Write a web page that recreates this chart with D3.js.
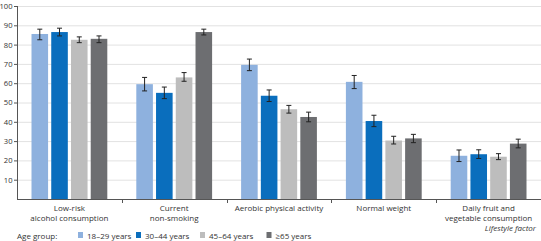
<!DOCTYPE html>
<html>
<head>
<meta charset="utf-8">
<script src="https://cdn.jsdelivr.net/npm/d3@7"></script>
<style>
  body { margin: 0; background: #fff; }
  text { font-family: "Open Sans", "Noto Sans", sans-serif; fill: #333; }
</style>
</head>
<body>
<script>
// lifestyle factors by age group

const factors = [
    ["Low-risk", "alcohol consumption"],
    ["Current", "non-smoking"],
    ["Aerobic physical activity"],
    ["Normal weight"],
    ["Daily fruit and", "vegetable consumption"]
];
const ageGroups = ["18\u201329 years", "30\u201344 years", "45\u201364 years", "\u226565 years"];

// values per age group (one entry per factor)
const age18 = [85.5, 59.5, 69.5, 60.7, 22.4];
const age30 = [86.5, 55.0, 53.5, 40.4, 23.2];
const age45 = [82.5, 63.0, 46.5, 30.3, 21.9];
const age65 = [83.0, 86.5, 42.5, 31.4, 28.7];

// confidence intervals
const low18 = [82.5, 56.0, 66.5, 57.2, 19.4];
const high18 = [88.0, 63.0, 72.5, 64.0, 25.4];
const low30 = [84.5, 52.0, 50.5, 37.5, 21.0];
const high30 = [88.5, 58.0, 56.5, 43.4, 25.5];
const low45 = [81.0, 61.0, 44.5, 28.5, 20.4];
const high45 = [84.0, 65.5, 48.5, 32.5, 23.5];
const low65 = [81.0, 85.0, 40.0, 29.2, 26.5];
const high65 = [84.5, 88.0, 45.0, 33.5, 31.0];

const yTicks = [10, 20, 30, 40, 50, 60, 70, 80, 90, 100];

const series = [
    {vals: age18, lo: low18, hi: high18},
    {vals: age30, lo: low30, hi: high30},
    {vals: age45, lo: low45, hi: high45},
    {vals: age65, lo: low65, hi: high65}
];

const color = d3.scaleOrdinal()
    .domain(ageGroups)
    .range(["#8eb1de", "#0a6ebd", "#bdbdbd", "#6d6e71"]);

// set the dimensions of the plot area
const margin = {left: 17, top: 6, right: 0},
    plotW = 541 - margin.left,
    baseY = 199;

const svg = d3.select("body")
    .append("svg")
    .attr("width", 541)
    .attr("height", 241);

const x0 = d3.scaleBand()
    .domain(d3.range(factors.length))
    .range([margin.left, margin.left + plotW])
    .paddingInner(0)
    .paddingOuter(0);

const x1 = d3.scaleBand()
    .domain(d3.range(ageGroups.length))
    .range([14.5, x0.bandwidth() - 14.5])
    .paddingInner(0.16);

const y = d3.scaleLinear()
    .domain([0, 100])
    .range([baseY, margin.top]);

// gridlines
svg.append("g")
    .selectAll("line")
    .data(yTicks)
    .enter()
    .append("line")
    .attr("x1", margin.left)
    .attr("x2", 541)
    .attr("y1", d => y(d) + 0.5)
    .attr("y2", d => y(d) + 0.5)
    .attr("stroke", "#e2e2e2")
    .attr("stroke-width", 1);

// Y axis
const yAxis = svg.append("g")
    .attr("transform", `translate(${margin.left + 0.5},0)`)
    .call(d3.axisLeft(y).tickValues(yTicks).tickSize(3.5).tickPadding(1.5));
yAxis.select(".domain").attr("stroke", "#555").attr("d", `M0,${y(100)}V${baseY}`);
yAxis.selectAll(".tick line").attr("stroke", "#555");
yAxis.selectAll(".tick text")
    .attr("font-size", 7.6)
    .attr("font-family", "'Open Sans', sans-serif")
    .attr("fill", "#333");

// bars
const groups = svg.append("g")
    .selectAll("g")
    .data(factors)
    .enter()
    .append("g")
    .attr("transform", (d, i) => `translate(${x0(i)},0)`);

groups.each(function(f, i) {
    const g = d3.select(this);
    series.forEach((s, j) => {
        g.append("rect")
            .attr("x", x1(j))
            .attr("y", y(s.vals[i]))
            .attr("width", x1.bandwidth())
            .attr("height", baseY - y(s.vals[i]))
            .attr("fill", color(ageGroups[j]));
        const cx = x1(j) + x1.bandwidth() / 2;
        g.append("line")
            .attr("x1", cx).attr("x2", cx)
            .attr("y1", y(s.hi[i])).attr("y2", y(s.lo[i]))
            .attr("stroke", "#222").attr("stroke-width", 1);
        [s.hi[i], s.lo[i]].forEach(v => {
            g.append("line")
                .attr("x1", cx - 2.5).attr("x2", cx + 2.5)
                .attr("y1", y(v)).attr("y2", y(v))
                .attr("stroke", "#222").attr("stroke-width", 1);
        });
    });
    // category label
    const t = g.append("text")
        .attr("text-anchor", "middle")
        .attr("font-size", 8);
    f.forEach((line, k) => {
        t.append("tspan")
            .attr("x", x0.bandwidth() / 2)
            .attr("y", 211 + k * 10)
            .text(line);
    });
});

// baseline
svg.append("line")
    .attr("x1", margin.left)
    .attr("x2", 541)
    .attr("y1", baseY + 0.5)
    .attr("y2", baseY + 0.5)
    .attr("stroke", "#555");

// separators between categories
svg.append("g")
    .selectAll("line")
    .data(d3.range(1, factors.length))
    .enter()
    .append("line")
    .attr("x1", d => Math.round(x0(d)) + 0.5)
    .attr("x2", d => Math.round(x0(d)) + 0.5)
    .attr("y1", baseY)
    .attr("y2", baseY + 4)
    .attr("stroke", "#555");

// axis title
svg.append("text")
    .attr("x", 536)
    .attr("y", 231)
    .attr("text-anchor", "end")
    .attr("font-size", 8)
    .attr("font-style", "italic")
    .text("Lifestyle factor");

// legend
svg.append("text")
    .attr("x", 17)
    .attr("y", 238.5)
    .attr("font-size", 8)
    .text("Age group:");

const legendX = [78, 136, 200, 266.5];
const legend = svg.append("g")
    .selectAll("g")
    .data(ageGroups)
    .enter()
    .append("g")
    .attr("transform", (d, i) => `translate(${legendX[i]},232)`);
legend.append("rect")
    .attr("width", 5)
    .attr("height", 6)
    .attr("fill", d => color(d));
legend.append("text")
    .attr("x", 9)
    .attr("y", 6.5)
    .attr("font-size", 8)
    .text(d => d);
</script>
</body>
</html>
